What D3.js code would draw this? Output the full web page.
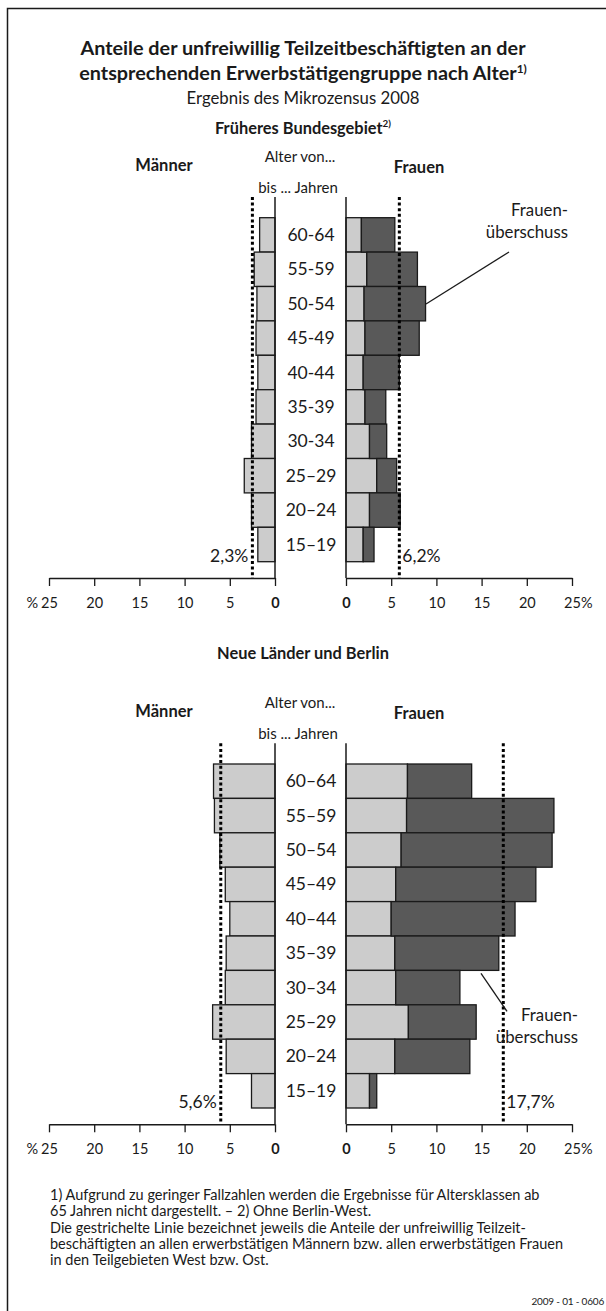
<!DOCTYPE html>
<html>
<head>
<meta charset="utf-8">
<script src="https://cdnjs.cloudflare.com/ajax/libs/d3/7.8.5/d3.min.js"></script>
<style>
body { margin: 0; background: #fff; }
text { font-family: Lato, "Open Sans", sans-serif; fill: #1a1a1a; }
</style>
</head>
<body>
<div id="vizContainer"></div>
<script>
// age groups, from top row to bottom row
var agesWest = ["60-64", "55-59", "50-54", "45-49", "40-44", "35-39", "30-34", "25–29", "20–24", "15–19"];
var agesEast = ["60–64", "55–59", "50–54", "45–49", "40–44", "35–39", "30–34", "25–29", "20–24", "15–19"];

// shares in %
var menWest   = [1.7, 2.3, 2.0, 2.1, 1.9, 2.1, 2.6, 3.4, 2.6, 1.9];
var womenWest = [5.4, 7.9, 8.8, 8.1, 5.9, 4.4, 4.5, 5.6, 6.0, 3.1];
var menEast   = [6.8, 6.7, 6.1, 5.5, 5.0, 5.4, 5.5, 6.9, 5.4, 2.6];
var womenEast = [13.9, 23.0, 22.8, 21.0, 18.7, 16.9, 12.6, 14.4, 13.7, 3.4];

// dotted lines: men, women (where they sit) and their labels
var avgWest = [2.5, 5.9];
var avgWestLabels = ["2,3%", "6,2%"];
var avgEast = [6.0, 17.4];
var avgEastLabels = ["5,6%", "17,7%"];

var tickValues = [0, 5, 10, 15, 20, 25];

var footnotes = [
    "1) Aufgrund zu geringer Fallzahlen werden die Ergebnisse für Altersklassen ab",
    "65 Jahren nicht dargestellt. – 2) Ohne Berlin-West.",
    "Die gestrichelte Linie bezeichnet jeweils die Anteile der unfreiwillig Teilzeit-",
    "beschäftigten an allen erwerbstätigen Männern bzw. allen erwerbstätigen Frauen",
    "in den Teilgebieten West bzw. Ost."
];

var width = 606, height = 1311;
var light = "#cccccc", dark = "#595959", ink = "#1a1a1a";

var svg = d3.select("#vizContainer").append("svg")
    .attr("width", width)
    .attr("height", height)
    .attr("viewBox", "0 0 " + width + " " + height);

// frame (runs off the right and bottom edge like the original)
svg.append("rect")
    .attr("x", 7.5).attr("y", 8.5)
    .attr("width", 700).attr("height", 1400)
    .attr("fill", "none").attr("stroke", ink).attr("stroke-width", 1.5);

// simple helper for a line of text
function addText(parent, x, y, txt, size, weight, anchor) {
    return parent.append("text")
        .attr("x", x).attr("y", y)
        .attr("font-size", size)
        .attr("font-weight", weight || "normal")
        .attr("text-anchor", anchor || "middle")
        .text(txt);
}

function addSup(sel, txt) {
    sel.append("tspan").attr("font-size", "60%").attr("dy", -7).text(txt);
}

// titles
addText(svg, 303, 55, "Anteile der unfreiwillig Teilzeitbeschäftigten an der", 19.8, "bold");
var t2 = addText(svg, 303, 80, "entsprechenden Erwerbstätigengruppe nach Alter", 19.8, "bold");
addSup(t2, "1)");
addText(svg, 303, 104, "Ergebnis des Mikrozensus 2008", 16.8);

// one pyramid panel; dy shifts it down the page
function drawPanel(dy, ages, men, women, avg, avgLabels, note) {
    var g = svg.append("g").attr("transform", "translate(0," + dy + ")");
    var top = 217.7, bottom = 561.7, axisY = 578, lineTop = 197;

    var xLeft = d3.scaleLinear().domain([0, 25]).range([275, 49]);
    var xRight = d3.scaleLinear().domain([0, 25]).range([346, 572]);
    var y = d3.scaleBand().domain(ages).range([top, bottom]).padding(0);

    // headers
    addText(g, 164, 171, "Männer", 16.5, "bold");
    addText(g, 419, 173, "Frauen", 16.5, "bold");
    addText(g, 300, 162, "Alter von...", 15);
    addText(g, 298, 193, "bis ... Jahren", 15);

    var rows = ages.map(function(a, i) { return { age: a, m: men[i], w: women[i] }; });

    // men, left side
    g.selectAll(".men").data(rows).enter().append("rect")
        .attr("x", function(d) { return xLeft(d.m); })
        .attr("y", function(d) { return y(d.age); })
        .attr("width", function(d) { return xLeft(0) - xLeft(d.m); })
        .attr("height", y.bandwidth())
        .attr("fill", light).attr("stroke", ink).attr("stroke-width", 1.3);

    // women: light part = men's share, dark part = Frauenüberschuss
    g.selectAll(".wlight").data(rows).enter().append("rect")
        .attr("x", xRight(0))
        .attr("y", function(d) { return y(d.age); })
        .attr("width", function(d) { return xRight(Math.min(d.m, d.w)) - xRight(0); })
        .attr("height", y.bandwidth())
        .attr("fill", light).attr("stroke", ink).attr("stroke-width", 1.3);
    g.selectAll(".wdark").data(rows).enter().append("rect")
        .attr("x", function(d) { return xRight(d.m); })
        .attr("y", function(d) { return y(d.age); })
        .attr("width", function(d) { return Math.max(0, xRight(d.w) - xRight(d.m)); })
        .attr("height", y.bandwidth())
        .attr("fill", dark).attr("stroke", ink).attr("stroke-width", 1.3);

    // age labels in the middle
    g.selectAll(".age").data(rows).enter().append("text")
        .attr("x", 311)
        .attr("y", function(d) { return y(d.age) + y.bandwidth() / 2 + 6; })
        .attr("font-size", 17.5).attr("text-anchor", "middle")
        .text(function(d) { return d.age; });

    // zero lines
    [xLeft(0), xRight(0)].forEach(function(x) {
        g.append("line").attr("x1", x).attr("x2", x).attr("y1", lineTop).attr("y2", axisY)
            .attr("stroke", ink).attr("stroke-width", 1.5);
    });

    // dotted average lines
    var dx = [xLeft(avg[0]), xRight(avg[1])];
    dx.forEach(function(x) {
        g.append("line").attr("x1", x).attr("x2", x).attr("y1", lineTop).attr("y2", axisY)
            .attr("stroke", "#000").attr("stroke-width", 3).attr("stroke-dasharray", "3,2.6");
    });
    addText(g, dx[0] - 4, bottom, avgLabels[0], 17.5, "normal", "end");
    addText(g, dx[1] + 3, bottom, avgLabels[1], 17.5, "normal", "start");

    // axes
    var axL = g.append("g").attr("transform", "translate(0," + axisY + ")")
        .call(d3.axisBottom(xLeft).tickValues(tickValues).tickSize(8).tickSizeOuter(0));
    var axR = g.append("g").attr("transform", "translate(0," + axisY + ")")
        .call(d3.axisBottom(xRight).tickValues(tickValues).tickSize(8).tickSizeOuter(0));
    [axL, axR].forEach(function(ax) {
        ax.select(".domain").attr("stroke", ink).attr("stroke-width", 1.5);
        ax.selectAll(".tick line").attr("stroke", ink).attr("stroke-width", 1.3);
        ax.selectAll(".tick text")
            .attr("font-size", 14.5).attr("y", 0).attr("dy", 30).attr("fill", ink)
            .style("font-family", "Lato, 'Open Sans', sans-serif")
            .attr("font-weight", function(d) { return d === 0 ? "bold" : "normal"; });
    });
    addText(g, xLeft(25) - 11, axisY + 30, "%", 14.5, "normal", "end");
    addText(g, xRight(25) + 9, axisY + 30, "%", 14.5, "normal", "start");

    // Frauenüberschuss annotation
    g.append("line").attr("x1", note.x1).attr("y1", note.y1).attr("x2", note.x2).attr("y2", note.y2)
        .attr("stroke", ink).attr("stroke-width", 1.3);
    addText(g, note.tx, note.ty, "Frauen-", 16.8, "normal", "end");
    addText(g, note.tx, note.ty + 22, "überschuss", 16.8, "normal", "end");
}

var h1 = addText(svg, 303, 134, "Früheres Bundesgebiet", 16.4, "bold");
addSup(h1, "2)");
drawPanel(0, agesWest, menWest, womenWest, avgWest, avgWestLabels,
    { x1: 509, y1: 252, x2: 426, y2: 304, tx: 568, ty: 216 });

addText(svg, 303, 659, "Neue Länder und Berlin", 16.4, "bold");
drawPanel(546.3, agesEast, menEast, womenEast, avgEast, avgEastLabels,
    { x1: 481 , y1: 427, x2: 507, y2: 465, tx: 578, ty: 475 });

// footnotes
svg.selectAll(".foot").data(footnotes).enter().append("text")
    .attr("x", 50)
    .attr("y", function(d, i) { return 1200 + i * 16.3; })
    .attr("font-size", 14.5)
    .text(function(d) { return d; });

addText(svg, 604, 1305, "2009 - 01 - 0606", 10, "normal", "end")
    .attr("letter-spacing", -0.2);
</script>
</body>
</html>
